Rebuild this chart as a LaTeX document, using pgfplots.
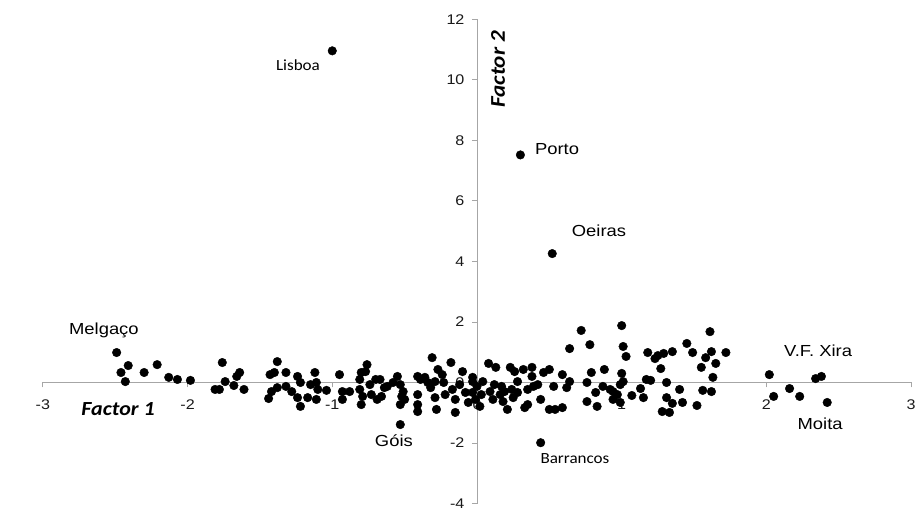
\documentclass[border=0pt]{standalone}
\usepackage{pgfplots}
\pgfplotsset{compat=1.18}
\usepackage{fontspec}
\setmainfont{Liberation Sans}[FakeStretch=1.15]
\newfontfamily\calibri{Carlito}[FakeStretch=1.1]

\pgfplotstableread{
x y
-2.49 0.99
-2.41 0.56
-2.46 0.33
-2.43 0.03
-2.30 0.33
-2.21 0.59
-2.13 0.17
-2.07 0.10
-1.98 0.07
-1.76 0.66
-1.74 0.03
-1.81 -0.23
-1.78 -0.23
-1.68 -0.10
-1.64 0.33
-1.66 0.20
-1.61 -0.23
-1.38 0.69
-1.43 0.26
-1.40 0.33
-1.32 0.33
-1.42 -0.30
-1.38 -0.17
-1.44 -0.53
-1.32 -0.13
-1.28 -0.30
-1.24 0.20
-1.22 0.00
-1.24 -0.50
-1.22 -0.79
-1.17 -0.50
-1.15 -0.07
-1.12 0.33
-1.11 0.00
-1.11 -0.56
-1.04 -0.26
-1.10 -0.23
-1.00 10.96
-0.95 0.26
-0.93 -0.30
-0.93 -0.56
-0.88 -0.30
-0.81 0.10
-0.80 0.33
-0.76 0.59
-0.77 0.36
-0.81 -0.23
-0.79 -0.46
-0.74 -0.07
-0.73 -0.40
-0.80 -0.73
-0.70 0.10
-0.67 0.10
-0.69 -0.56
-0.66 -0.46
-0.64 -0.17
-0.62 -0.13
-0.58 0.00
-0.55 0.20
-0.53 -0.07
-0.52 -0.46
-0.50 -0.56
-0.53 -0.73
-0.51 -0.30
-0.53 -1.39
-0.41 0.20
-0.39 0.10
-0.41 -0.40
-0.41 -0.73
-0.41 -0.96
-0.36 0.17
-0.34 0.00
-0.31 0.82
-0.32 -0.17
-0.29 0.03
-0.29 -0.50
-0.27 0.43
-0.24 0.26
-0.23 0.00
-0.28 -0.89
-0.22 -0.40
-0.18 0.66
-0.17 -0.23
-0.15 -0.56
-0.15 -0.99
-0.12 -0.07
-0.10 0.36
-0.08 -0.33
-0.06 -0.66
-0.03 0.17
-0.03 0.03
-0.03 -0.33
-0.01 -0.56
0.00 -0.13
0.04 0.03
0.03 -0.40
0.02 -0.79
0.08 0.63
0.13 0.50
0.09 -0.30
0.11 -0.56
0.12 -0.07
0.17 -0.13
0.16 -0.40
0.18 -0.63
0.21 -0.89
0.19 -0.30
0.23 0.50
0.26 0.36
0.28 0.03
0.24 -0.23
0.25 -0.50
0.28 -0.33
0.32 0.43
0.35 -0.73
0.33 -0.83
0.35 -0.23
0.38 0.50
0.38 0.20
0.39 -0.13
0.44 -0.56
0.42 -0.07
0.46 0.33
0.50 0.43
0.50 -0.89
0.54 -0.89
0.53 -0.13
0.59 -0.83
0.59 0.26
0.62 -0.17
0.64 0.03
0.64 1.12
0.72 1.72
0.78 1.25
0.79 0.33
0.76 0.00
0.76 -0.63
0.82 -0.33
0.83 -0.79
0.88 0.43
0.87 -0.13
0.30 7.52
0.52 4.26
0.44 -1.99
1.00 1.88
1.01 1.19
1.03 0.86
1.00 0.30
1.01 0.03
0.94 -0.30
0.97 -0.40
0.99 -0.66
0.94 -0.56
0.92 -0.23
0.99 -0.07
1.07 -0.43
1.13 -0.20
1.15 -0.50
1.18 0.99
1.17 0.10
1.20 0.07
1.23 0.79
1.25 0.89
1.29 0.96
1.27 0.46
1.31 0.00
1.31 -0.50
1.28 -0.96
1.33 -0.99
1.35 1.02
1.35 -0.69
1.40 -0.23
1.42 -0.66
1.45 1.29
1.49 0.99
1.52 -0.76
1.55 0.50
1.58 0.82
1.61 1.68
1.62 1.02
1.65 0.63
1.63 0.17
1.56 -0.26
1.62 -0.30
1.72 0.99
2.02 0.26
2.05 -0.46
2.16 -0.20
2.23 -0.46
2.34 0.13
2.38 0.20
2.42 -0.66
}\municipios

\begin{document}
\begin{tikzpicture}
\begin{axis}[
    scale only axis,
    width=868pt, height=484pt,
    xmin=-3, xmax=3, ymin=-4, ymax=12,
    axis lines=middle,
    axis line style={draw=gray!70, line width=0.9pt, -},
    xtick={-3,...,3},
    ytick={-4,-2,...,12},
    hide obscured x ticks=false,
    hide obscured y ticks=false,
    tick align=outside,
    major tick length=5pt,
    tick style={draw=gray!70, line width=0.9pt},
    ticklabel style={font=\fontsize{14}{16}\selectfont, text=black!90},
    xticklabel style={yshift=-9pt},
    yticklabel style={xshift=-4pt},
    /pgf/number format/assume math mode=true,
    clip=false,
]
\path (axis cs:-3.296,-4.22) rectangle (axis cs:3.082,12.64);
\addplot[only marks, mark=*, mark size=4.3pt, black] table[x=x, y=y] {\municipios};

\node[font=\calibri\fontsize{15.5}{17}\selectfont] at (axis cs:-1.237,10.48) {Lisboa};
\node[font=\fontsize{16}{18}\selectfont] at (axis cs:0.553,7.70) {Porto};
\node[font=\fontsize{16}{18}\selectfont] at (axis cs:0.843,5.02) {Oeiras};
\node[font=\fontsize{16}{18}\selectfont] at (axis cs:-2.578,1.72) {Melgaço};
\node[font=\fontsize{16}{18}\selectfont] at (axis cs:-0.574,-1.92) {Góis};
\node[font=\calibri\fontsize{15.5}{17}\selectfont] at (axis cs:0.677,-2.51) {Barrancos};
\node[font=\fontsize{16}{18}\selectfont] at (axis cs:2.357,1.06) {V.F. Xira};
\node[font=\fontsize{16}{18}\selectfont] at (axis cs:2.371,-1.36) {Moita};
\node[font=\calibri\bfseries\itshape\fontsize{20}{22}\selectfont] at (axis cs:-2.48,-0.89) {Factor 1};
\node[font=\calibri\bfseries\itshape\fontsize{21}{23}\selectfont, rotate=90] at (axis cs:0.145,10.35) {Factor 2};
\end{axis}
\end{tikzpicture}
\end{document}
